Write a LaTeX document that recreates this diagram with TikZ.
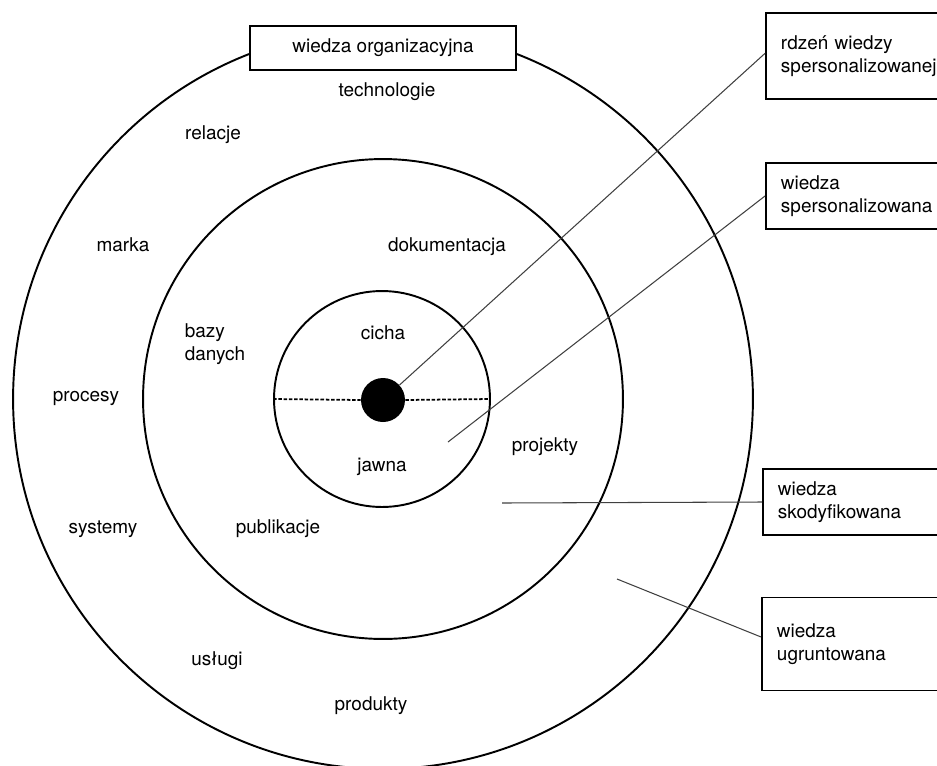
\documentclass[tikz,border=0pt]{standalone}
\usepackage{fontspec}
\setmainfont{TeX Gyre Heros}

\begin{document}
\begin{tikzpicture}[
		x=0.02cm, y=-0.02cm,
		ring/.style={
			draw=black,
			line width=1.1pt,
			circle,
			inner sep=0pt
		},
		tag/.style={
			draw=black,
			line width=1.1pt,
			fill=white,
			rectangle,
			anchor=west,
			minimum width=4.4cm,
			text width=3.8cm,
			inner xsep=0.2cm,
			align=left
		},
		link/.style={draw=black!75, line width=0.6pt},
		every node/.style={font=\fontsize{10.8}{12.8}\selectfont}
		]
		\useasboundingbox (0,0) rectangle (937,765);
		\clip (0,0) rectangle (937,765);
		
		% Rings
		\node[ring, minimum size=14.8cm] (outer) at (383,399) {};
		\node[ring, minimum size=9.6cm] (middle) at (383,399) {};
		\node[ring, minimum size=4.32cm] (inner) at (382,399) {};
		\node[circle, fill=black, inner sep=0pt, minimum size=0.88cm] (core) at (383,400) {};
		\draw[line width=1pt, dash pattern=on 2pt off 1pt] (inner.west) -- (core.west);
		\draw[line width=1pt, dash pattern=on 2pt off 1pt] (core.east) -- (inner.east);
		
		% Title box on top of the outer ring
		\node[draw=black, line width=1.1pt, fill=white, minimum width=5.32cm, minimum height=0.88cm] (org) at (383,48) {wiedza organizacyjna};
		
		% Labels
		\node (tech) at (387,92) {technologie};
		\node (rel) at (213,135) {relacje};
		\node (marka) at (123,245) {marka};
		\node (dok) at (447,247) {dokumentacja};
		\node[align=left] (bazy) at (215,344) {bazy\\danych};
		\node (cicha) at (383,333) {cicha};
		\node (proc) at (86,398) {procesy};
		\node (jawna) at (382,467) {jawna};
		\node (proj) at (545,447) {projekty};
		\node (sys) at (103,529) {systemy};
		\node (publ) at (278,529) {publikacje};
		\node (usl) at (217,661) {usługi};
		\node (prod) at (371,706) {produkty};
		
		% Side boxes
		\node[tag, minimum height=1.72cm] (rdzen) at (765,56) {rdzeń wiedzy\\spersonalizowanej};
		\node[tag, minimum height=1.32cm] (spers) at (765,196) {wiedza\\spersonalizowana};
		\node[tag, minimum height=1.32cm] (skod) at (762,502) {wiedza\\skodyfikowana};
		\node[tag, minimum height=1.86cm] (ugr) at (761,644) {wiedza\\ugruntowana};
		
		% Pointers
		\coordinate (pSpers) at (448,442);
		\coordinate (pSkod) at (502,503);
		\coordinate (pUgr) at (617,579);
		\draw[link] ([yshift=1.5pt]rdzen.west) -- (core);
		\draw[link] (spers.west) -- (pSpers);
		\draw[link] (skod.west) -- (pSkod);
		\draw[link] ([yshift=4pt]ugr.west) -- (pUgr);
	\end{tikzpicture}
\end{document}
